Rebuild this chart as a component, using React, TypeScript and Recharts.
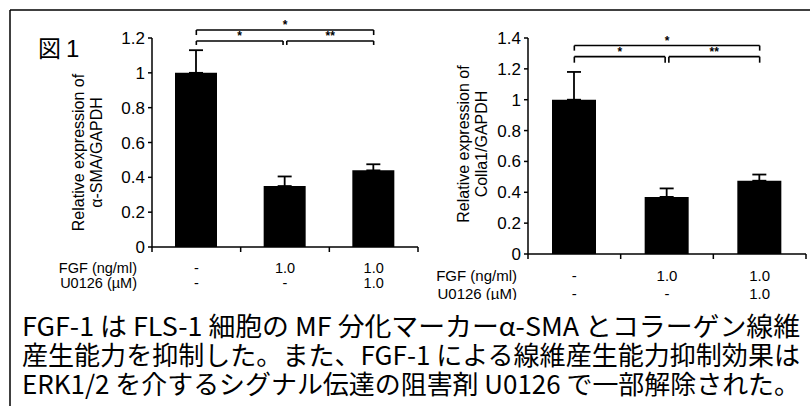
import React from 'react';
import { BarChart, Bar, XAxis, YAxis, ErrorBar, ReferenceLine } from 'recharts';

// treatment groups and the two dose rows printed under the axis
const groups = ['control', 'FGF', 'FGF+U0126'];
const fgfDose = ['-', '1.0', '1.0'];
const u0126Dose = ['-', '-', '1.0'];

// alpha-SMA / GAPDH
const smaMean = [1.0, 0.35, 0.44];
const smaErr = [0.13, 0.055, 0.035];
const smaTicks = [0, 0.2, 0.4, 0.6, 0.8, 1, 1.2];

// Colla1 / GAPDH
const colMean = [1.0, 0.37, 0.475];
const colErr = [0.18, 0.055, 0.04];
const colTicks = [0, 0.2, 0.4, 0.6, 0.8, 1, 1.2, 1.4];

// group positions on the x axis (1..3 = bar centres, halves = tick marks)
const groupTicks = [0.5, 1, 1.5, 2, 2.5, 3, 3.5];

// significance brackets: x range in group units, y of the bar and leg ends
const smaBrackets = [
  { x1: 1, x2: 3, y: 1.246, leg: 1.217, label: '*' },
  { x1: 1, x2: 1.978, y: 1.183, leg: 1.16, label: '*' },
  { x1: 2.02, x2: 3, y: 1.183, leg: 1.16, label: '**' },
];
const colBrackets = [
  { x1: 1, x2: 3, y: 1.351, leg: 1.318, label: '*' },
  { x1: 1, x2: 1.98, y: 1.279, leg: 1.24, label: '*' },
  { x1: 2.02, x2: 3, y: 1.279, leg: 1.24, label: '**' },
];

const captionLines = [
  'FGF-1 は FLS-1 細胞の MF 分化マーカーα-SMA とコラーゲン線維',
  '産生能力を抑制した。また、FGF-1 による線維産生能力抑制効果は',
  'ERK1/2 を介するシグナル伝達の阻害剤 U0126 で一部解除された。',
];

const sans = '"Liberation Sans", Arial, Helvetica, sans-serif';
const jp = '"Noto Sans CJK JP", sans-serif';

const GroupTick = (props: any) => {
  const { x, y, payload, rows, headerDx, fontSize } = props;
  const v = payload.value;
  if (Number.isInteger(v)) {
    const i = v - 1;
    return (
      <g fontSize={fontSize} fill="#000">
        <text x={x} y={y + rows[0]} textAnchor="middle" dominantBaseline="central">{fgfDose[i]}</text>
        <text x={x} y={y + rows[1]} textAnchor="middle" dominantBaseline="central">{u0126Dose[i]}</text>
      </g>
    );
  }
  return (
    <g>
      <line x1={x} x2={x} y1={y} y2={y + 5} stroke="#000" strokeWidth={1.5} />
      {v === 0.5 && (
        <g fontSize={fontSize} fill="#000">
          <text x={x + headerDx} y={y + rows[0]} textAnchor="end" dominantBaseline="central">FGF (ng/ml)</text>
          <text x={x + headerDx} y={y + rows[1]} textAnchor="end" dominantBaseline="central">U0126 (µM)</text>
        </g>
      )}
    </g>
  );
};

const YTitle = (props: any) => {
  const { viewBox, lines, dx, dy, fontSize } = props;
  const cy = viewBox.y + viewBox.height / 2 + dy;
  return (
    <g fontSize={fontSize} fill="#000">
      {lines.map((t: string, i: number) => {
        const cx = viewBox.x + dx[i];
        return (
          <text key={i} x={cx} y={cy} transform={`rotate(-90 ${cx} ${cy})`}
            textAnchor="middle" dominantBaseline="central">{t}</text>
        );
      })}
    </g>
  );
};

const brackets = (list: any[]) =>
  list.flatMap((b, i) => [
    <ReferenceLine key={`h${i}`} ifOverflow="visible" stroke="#000" strokeWidth={1.6}
      segment={[{ x: b.x1, y: b.y }, { x: b.x2, y: b.y }]}
      label={{ value: b.label, position: 'top', offset: 1, fontSize: 12, fontWeight: 'bold', fill: '#000' }} />,
    <ReferenceLine key={`l${i}`} ifOverflow="visible" stroke="#000" strokeWidth={1.6}
      segment={[{ x: b.x1, y: b.y }, { x: b.x1, y: b.leg }]} />,
    <ReferenceLine key={`r${i}`} ifOverflow="visible" stroke="#000" strokeWidth={1.6}
      segment={[{ x: b.x2, y: b.y }, { x: b.x2, y: b.leg }]} />,
  ]);

const Panel = (props: any) => {
  const { data, ticks, max, list, margin, yWidth, barSize, title, titleDx, titleDy, rows, headerDx, rowFont, width } = props;
  return (
    <BarChart width={width} height={300} data={data} margin={margin}>
      <XAxis dataKey="pos" type="number" domain={[0.5, 3.5]} ticks={groupTicks} interval={0}
        allowDataOverflow height={30} tickSize={0} tickMargin={0} tickLine={false}
        axisLine={{ stroke: '#000', strokeWidth: 1.5 }}
        tick={<GroupTick rows={rows} headerDx={headerDx} fontSize={rowFont} />} />
      <YAxis domain={[0, max]} ticks={ticks} interval={0} width={yWidth}
        tickSize={4} tickMargin={3}
        tick={{ fill: '#000', fontSize: 17 }}
        tickLine={{ stroke: '#000', strokeWidth: 1.5 }}
        axisLine={{ stroke: '#000', strokeWidth: 1.5 }}
        label={<YTitle lines={title} dx={titleDx} dy={titleDy} fontSize={16} />} />
      <Bar dataKey="mean" fill="#000" barSize={barSize} isAnimationActive={false}>
        <ErrorBar dataKey="err" direction="y" width={7} stroke="#000" strokeWidth={1.8} />
      </Bar>
      {brackets(list)}
    </BarChart>
  );
};

export default function App() {
  const smaData = groups.map((g, i) => ({ group: g, pos: i + 1, mean: smaMean[i], err: [0, smaErr[i]] }));
  const colData = groups.map((g, i) => ({ group: g, pos: i + 1, mean: colMean[i], err: [0, colErr[i]] }));
  return (
    <div style={{ position: 'absolute', left: 0, top: 0, width: 810, height: 406, background: '#fff', fontFamily: sans, overflow: 'hidden' }}>
      <svg width={810} height={406} style={{ position: 'absolute', left: 0, top: 0 }}>
        <line x1={10} x2={810} y1={10} y2={10} stroke="#000" strokeWidth={1.5} />
        <line x1={10} x2={10} y1={10} y2={406} stroke="#000" strokeWidth={1.5} />
        <g fontFamily={jp} fontSize={26} fill="#000">
          {captionLines.map((t, i) => (
            <text key={i} x={22} y={336 + i * 29} textLength={778} lengthAdjust="spacingAndGlyphs">{t}</text>
          ))}
        </g>
        <text x={38} y={57} fontFamily={jp} fontSize={23} fill="#000">図</text>
        <text x={66} y={57} fontFamily={sans} fontSize={24} fill="#000">1</text>
      </svg>
      <div style={{ position: 'absolute', left: 0, top: 0 }}>
        <Panel data={smaData} ticks={smaTicks} max={1.2} list={smaBrackets} width={430}
          margin={{ top: 38, right: 12, bottom: 23, left: 60 }} yWidth={92} barSize={42}
          title={['Relative expression of', 'α-SMA/GAPDH']} titleDx={[18, 36]} titleDy={10}
          rows={[21, 36]} headerDx={-15} rowFont={14.5} />
      </div>
      <div style={{ position: 'absolute', left: 400, top: 0 }}>
        <Panel data={colData} ticks={colTicks} max={1.4} list={colBrackets} width={410}
          margin={{ top: 38, right: 4, bottom: 16, left: 40 }} yWidth={88} barSize={44}
          title={['Relative expression of', 'Colla1/GAPDH']} titleDx={[23, 41]} titleDy={-2}
          rows={[21, 39]} headerDx={-11} rowFont={15} />
      </div>
    </div>
  );
}
